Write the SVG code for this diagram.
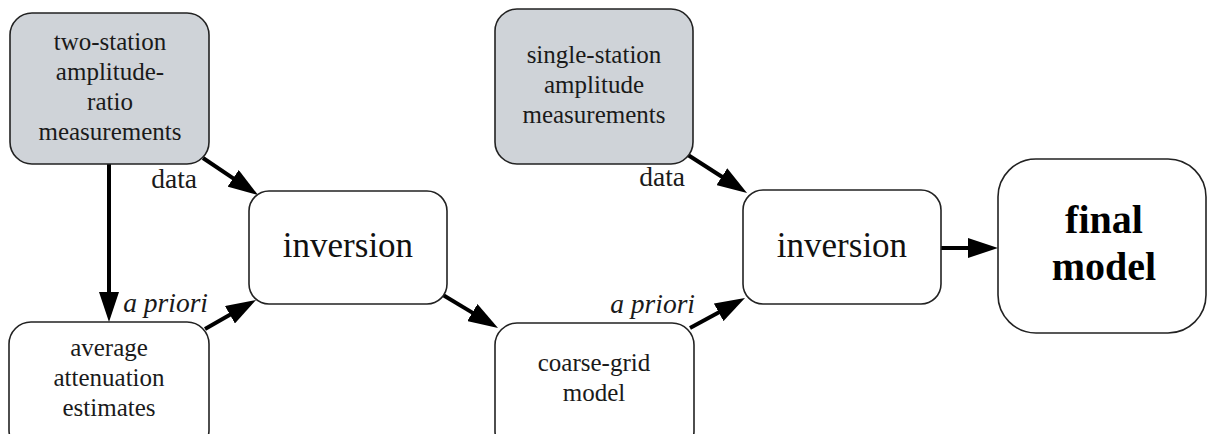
<svg xmlns="http://www.w3.org/2000/svg" width="1207" height="434" viewBox="0 0 1207 434">
<defs>
<style>
.box{fill:#ffffff;stroke:#222;stroke-width:1.6}
.src{fill:#cfd3d8;stroke:#222;stroke-width:1.6}
.t{font-family:"Liberation Serif","Times New Roman",serif;font-size:25px;fill:#1a1a1a;text-anchor:middle}
.big{font-family:"Liberation Serif","Times New Roman",serif;font-size:35px;fill:#111;text-anchor:middle}
.bold{font-family:"Liberation Serif","Times New Roman",serif;font-size:40px;font-weight:bold;fill:#000;text-anchor:middle}
.lbl{font-family:"Liberation Serif","Times New Roman",serif;font-size:27.5px;fill:#1a1a1a;text-anchor:end}
.it{font-style:italic}
.e{stroke:#000;stroke-width:4;fill:none;marker-end:url(#ah)}
</style>
<marker id="ah" markerUnits="userSpaceOnUse" viewBox="0 0 30 20" markerWidth="30" markerHeight="20" refX="2" refY="10" orient="auto">
<path d="M0,0 L30,10 L0,20 z" fill="#000"/>
</marker>
</defs>
<rect width="1207" height="434" fill="#ffffff"/>
<g id="connectors">
<line class="e" x1="203" y1="158" x2="234.8" y2="179.4"/>
<line class="e" x1="109" y1="164" x2="109" y2="294"/>
<line class="e" x1="205" y1="329" x2="231.7" y2="313.8"/>
<line class="e" x1="443" y1="295" x2="474" y2="313.6"/>
<line class="e" x1="688" y1="155" x2="723.5" y2="177.8"/>
<line class="e" x1="690" y1="328" x2="720.4" y2="311.4"/>
<line class="e" x1="941" y1="248" x2="970" y2="248"/>
<text class="lbl" x="197" y="188">data</text>
<text class="lbl it" x="208" y="312">a priori</text>
<text class="lbl" x="685" y="186">data</text>
<text class="lbl it" x="695" y="313">a priori</text>
</g>
<g id="two-station">
<rect class="src" x="10" y="13" width="199" height="151" rx="22"/>
<text class="t" x="110" y="50">two-station</text>
<text class="t" x="110" y="80">amplitude-</text>
<text class="t" x="110" y="110">ratio</text>
<text class="t" x="110" y="140">measurements</text>
</g>
<g id="average">
<rect class="box" x="9" y="322" width="200" height="130" rx="22"/>
<text class="t" x="109" y="356">average</text>
<text class="t" x="109" y="386">attenuation</text>
<text class="t" x="109" y="416">estimates</text>
</g>
<g id="inversion1">
<rect class="box" x="249" y="191" width="198" height="113" rx="20"/>
<text class="big" x="348" y="257">inversion</text>
</g>
<g id="single-station">
<rect class="src" x="495" y="9" width="198" height="155" rx="22"/>
<text class="t" x="594" y="63">single-station</text>
<text class="t" x="594" y="93">amplitude</text>
<text class="t" x="594" y="123">measurements</text>
</g>
<g id="coarse-grid">
<rect class="box" x="495" y="323" width="199" height="130" rx="22"/>
<text class="t" x="594" y="371">coarse-grid</text>
<text class="t" x="594" y="401">model</text>
</g>
<g id="inversion2">
<rect class="box" x="743" y="190" width="198" height="114" rx="20"/>
<text class="big" x="842" y="257">inversion</text>
</g>
<g id="final-model">
<rect class="box" x="998" y="159" width="208" height="174" rx="38"/>
<text class="bold" x="1104" y="233">final</text>
<text class="bold" x="1104" y="280">model</text>
</g>
</svg>
